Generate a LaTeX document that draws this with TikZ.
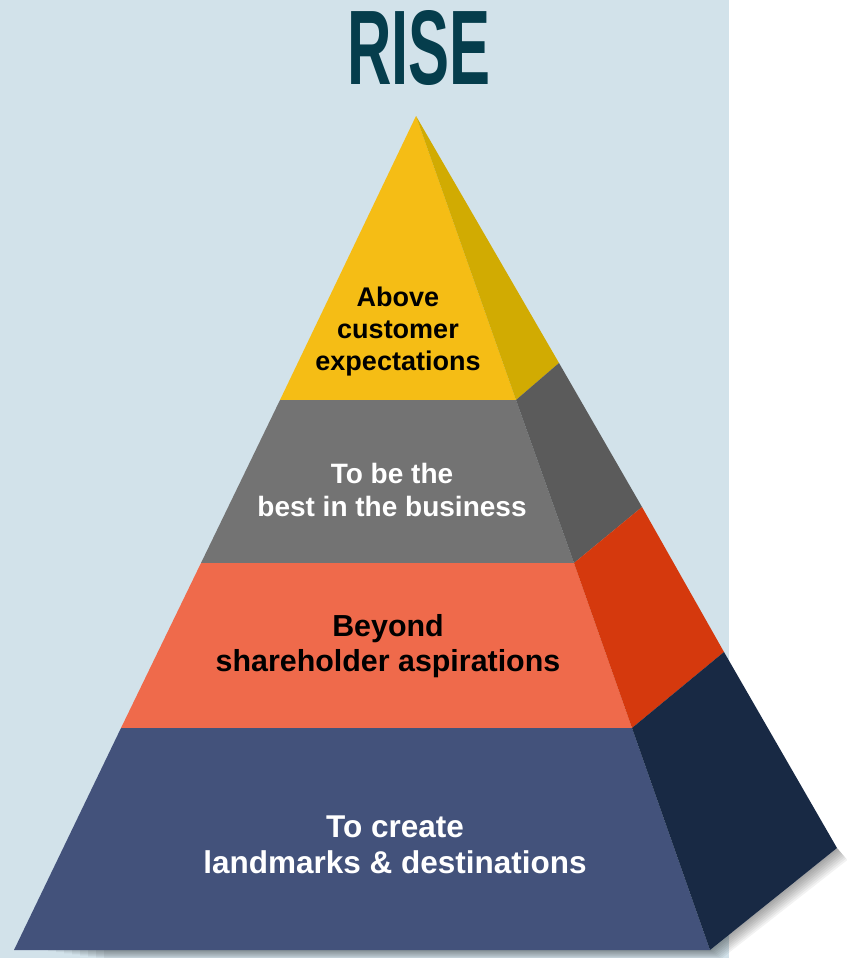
\documentclass[tikz,border=0pt]{standalone}
\usepackage{fontspec}
\setmainfont{Liberation Sans}
\usetikzlibrary{positioning}

\definecolor{panelblue}{HTML}{D2E2EA}
\definecolor{titleteal}{HTML}{053D4C}
\definecolor{goldfront}{HTML}{F5BD15}
\definecolor{goldside}{HTML}{D1AB02}
\definecolor{greyfront}{HTML}{737373}
\definecolor{greyside}{HTML}{5B5B5B}
\definecolor{coralfront}{HTML}{EF6A4B}
\definecolor{coralside}{HTML}{D5390D}
\definecolor{navyfront}{HTML}{43527B}
\definecolor{navyside}{HTML}{182944}

\begin{document}
\begin{tikzpicture}[x=1pt,y=-1pt,
  face/.style={draw=none},
  tier/.style={align=center,font=\bfseries,inner sep=0pt}]
\useasboundingbox (0,0) rectangle (846,958);
\fill[panelblue] (0,0) rectangle (729,958);

\node[font=\fontsize{106}{106}\selectfont\bfseries,text=titleteal,xscale=0.58] (title) at (419,48) {RISE};

\coordinate (top) at (416,116);
\coordinate (l1) at (280,400);
\coordinate (l2) at (201,563);
\coordinate (l3) at (121,728);
\coordinate (l4) at (14,950);
\coordinate (r1) at (516,400);
\coordinate (r2) at (574,563);
\coordinate (r3) at (632,728);
\coordinate (r4) at (710,950);
\coordinate (s1) at (559,363);
\coordinate (s2) at (642,507);
\coordinate (s3) at (724,652);
\coordinate (s4) at (837,848);

% soft shadow under the base
\foreach \k in {1,...,8}
  \fill[black,opacity=0.05] (40+8*\k,950) -- (r4) -- (s4) -- (837+1.3*\k,848+1.5*\k) -- (710+1.4*\k,950+1.1*\k) -- (40+8*\k,950+1.1*\k) -- cycle;

\draw[face,fill=goldfront] (top) -- (l1) -- (r1) -- cycle;
\draw[face,fill=goldside] (top) -- (r1) -- (s1) -- cycle;
\draw[face,fill=greyfront] (l1) -- (l2) -- (r2) -- (r1) -- cycle;
\draw[face,fill=greyside] (r1) -- (r2) -- (s2) -- (s1) -- cycle;
\draw[face,fill=coralfront] (l2) -- (l3) -- (r3) -- (r2) -- cycle;
\draw[face,fill=coralside] (r2) -- (r3) -- (s3) -- (s2) -- cycle;
\draw[face,fill=navyfront] (l3) -- (l4) -- (r4) -- (r3) -- cycle;
\draw[face,fill=navyside] (r3) -- (r4) -- (s4) -- (s3) -- cycle;

\node[tier,font=\fontsize{27}{32}\selectfont\bfseries,text=black] (above) at (398,332) {Above\\customer\\expectations};
\node[tier,font=\fontsize{28}{33}\selectfont\bfseries,text=white] (best) at (392,490) {To be the\\best in the business};
\node[tier,font=\fontsize{30.4}{35}\selectfont\bfseries,text=black] (beyond) at (388,646) {Beyond\\shareholder aspirations};
\node[tier,font=\fontsize{31.5}{36}\selectfont\bfseries,text=white] (create) at (395,845) {To create\\landmarks \& destinations};
\end{tikzpicture}
\end{document}
